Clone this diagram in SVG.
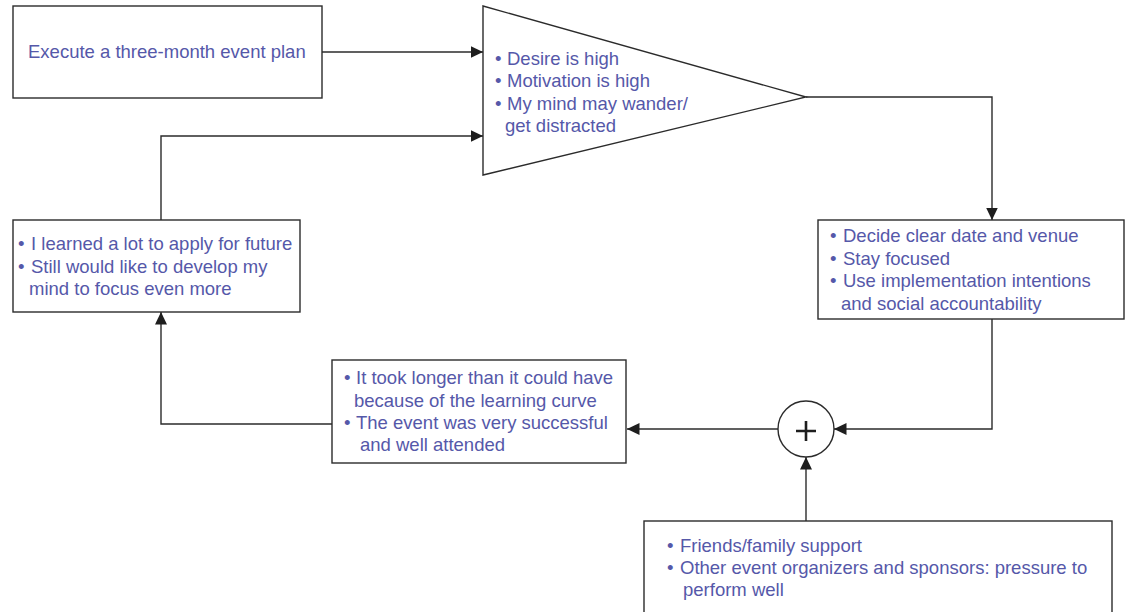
<svg xmlns="http://www.w3.org/2000/svg" width="1125" height="612" viewBox="0 0 1125 612">
  <style>
    .box { fill: #fff; stroke: #2b2b2b; stroke-width: 1.4; }
    .link { fill: none; stroke: #2b2b2b; stroke-width: 1.4; }
    .txt { font-family: "Liberation Sans", Arial, sans-serif; font-size: 18.5px; fill: #5558a9; }
  </style>
  <defs>
    <marker id="arrow" markerUnits="userSpaceOnUse" markerWidth="13" markerHeight="13" viewBox="0 0 13 13" refX="12.5" refY="6.5" orient="auto">
      <path d="M0,0.5 L12.5,6.5 L0,12.5 Z" fill="#1e1e1e"/>
    </marker>
  </defs>

  <rect width="1125" height="612" fill="#fff"/>

  <!-- connectors -->
  <g id="connectors">
    <path class="link" d="M322,52 H483" marker-end="url(#arrow)"/>
    <path class="link" d="M161,220 V136 H483" marker-end="url(#arrow)"/>
    <path class="link" d="M806,97 H992 V220" marker-end="url(#arrow)"/>
    <path class="link" d="M992,319 V429 H834" marker-end="url(#arrow)"/>
    <path class="link" d="M778,429 H627" marker-end="url(#arrow)"/>
    <path class="link" d="M332,424 H161 V312" marker-end="url(#arrow)"/>
    <path class="link" d="M806,521 V457" marker-end="url(#arrow)"/>
  </g>

  <!-- goal -->
  <g id="goal">
    <rect class="box" x="13" y="6" width="309" height="92"/>
    <text class="txt" x="28" y="58">Execute a three-month event plan</text>
  </g>

  <!-- amplifier -->
  <g id="amplifier">
    <path class="box" d="M483,6 L806,97 L483,175 Z"/>
    <text class="txt" x="495" y="65">•</text>
    <text class="txt" x="507" y="65">Desire is high</text>
    <text class="txt" x="495" y="87">•</text>
    <text class="txt" x="507" y="87">Motivation is high</text>
    <text class="txt" x="495" y="110">•</text>
    <text class="txt" x="507" y="110">My mind may wander/</text>
    <text class="txt" x="505" y="132">get distracted</text>
  </g>

  <!-- actions -->
  <g id="actions">
    <rect class="box" x="818" y="220" width="306" height="99"/>
    <text class="txt" x="830" y="242">•</text>
    <text class="txt" x="843" y="242">Decide clear date and venue</text>
    <text class="txt" x="830" y="265">•</text>
    <text class="txt" x="843" y="265">Stay focused</text>
    <text class="txt" x="830" y="287">•</text>
    <text class="txt" x="843" y="287">Use implementation intentions</text>
    <text class="txt" x="841" y="310">and social accountability</text>
  </g>

  <!-- summing junction -->
  <g id="sum">
    <circle cx="806" cy="429" r="28" fill="#fff" stroke="#2b2b2b" stroke-width="1.4"/>
    <path d="M796,431 H816 M806,421 V441" stroke="#1e1e1e" stroke-width="2.6"/>
  </g>

  <!-- external influences -->
  <g id="influences">
    <rect class="box" x="644" y="521" width="468" height="100"/>
    <text class="txt" x="667" y="552">•</text>
    <text class="txt" x="680" y="552">Friends/family support</text>
    <text class="txt" x="667" y="574">•</text>
    <text class="txt" x="680" y="574">Other event organizers and sponsors: pressure to</text>
    <text class="txt" x="683" y="596">perform well</text>
  </g>

  <!-- outcome -->
  <g id="outcome">
    <rect class="box" x="332" y="360" width="294" height="103"/>
    <text class="txt" x="344" y="384">•</text>
    <text class="txt" x="356" y="384">It took longer than it could have</text>
    <text class="txt" x="354" y="407">because of the learning curve</text>
    <text class="txt" x="344" y="429">•</text>
    <text class="txt" x="356" y="429">The event was very successful</text>
    <text class="txt" x="360" y="451">and well attended</text>
  </g>

  <!-- reflection -->
  <g id="reflection">
    <rect class="box" x="13" y="220" width="287" height="92"/>
    <text class="txt" x="18" y="250">•</text>
    <text class="txt" x="31" y="250">I learned a lot to apply for future</text>
    <text class="txt" x="18" y="273">•</text>
    <text class="txt" x="31" y="273">Still would like to develop my</text>
    <text class="txt" x="29" y="295">mind to focus even more</text>
  </g>
</svg>
